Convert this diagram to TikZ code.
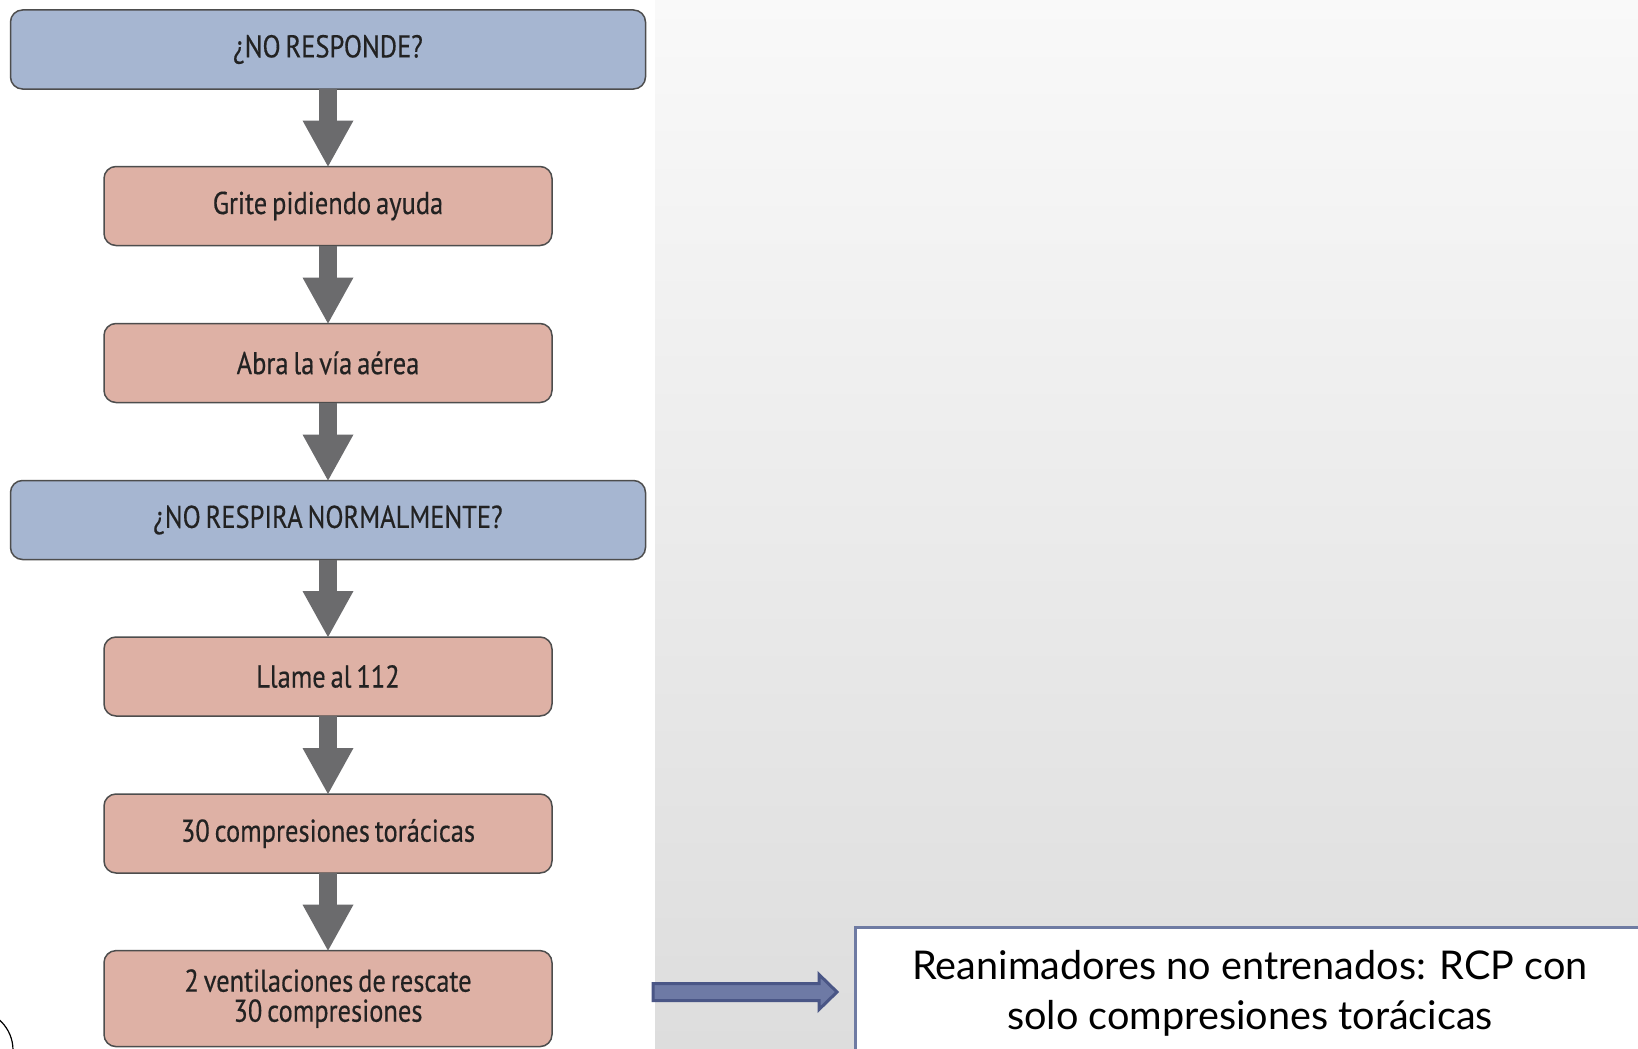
\documentclass[tikz,border=0pt]{standalone}
\usepackage{fontspec}
\setmainfont{PT Sans}
\newfontfamily\flowfont[FakeStretch=0.84,WordSpace=0.7,FakeBold=0.4]{PT Sans}
\newfontfamily\notefont{Lato}
\usetikzlibrary{arrows.meta,calc}

\definecolor{askblue}{HTML}{A6B6D1}
\definecolor{actpink}{HTML}{DEB1A5}
\definecolor{boxline}{HTML}{4D4D4D}
\definecolor{flowgray}{HTML}{6B6B6D}
\definecolor{inktext}{HTML}{222222}
\definecolor{panelTop}{HTML}{F9F9F9}
\definecolor{panelBot}{HTML}{DDDDDD}
\definecolor{notearrow}{HTML}{6E7AA5}
\definecolor{notearrowline}{HTML}{4A5686}
\definecolor{noteline}{HTML}{6F7BA3}

\begin{document}
\begin{tikzpicture}[x=1pt,y=-1pt,
  flowbox/.style={draw=boxline, line width=1.5pt, rounded corners=12pt,
    minimum height=79pt, outer sep=0pt, inner sep=0pt, align=center,
    text=inktext, font=\flowfont\fontsize{31.5}{30}\selectfont},
  askbox/.style={flowbox, fill=askblue, minimum width=635pt},
  actbox/.style={flowbox, fill=actpink, minimum width=448pt},
  flowarrow/.style={draw=flowgray, line width=18pt,
    -{Triangle[width=51pt,length=46pt,line width=0pt]}},
  notebox/.style={draw=noteline, line width=3pt, fill=white, outer sep=0pt,
    inner sep=0pt, align=center, text=black,
    font=\notefont\fontsize{39.6}{50}\selectfont},
]
\useasboundingbox (0,0) rectangle (1638,1049);
\clip (0,0) rectangle (1638,1049);

% page background: white left half, shaded right panel
\fill[white] (0,0) rectangle (1638,1049);
\shade[top color=panelTop, bottom color=panelBot] (655,0) rectangle (1638,1049);

% flowchart steps
\node[askbox] (resp)  at (328,49.5) {¿NO RESPONDE?};
\node[actbox] (shout) at (328,206)  {Grite pidiendo ayuda};
\node[actbox] (air)   at (328,363)  {Abra la vía aérea};
\node[askbox] (breath) at (328,520) {¿NO RESPIRA NORMALMENTE?};
\node[actbox] (call)  at (328,676.5) {Llame al 112};
\node[actbox] (comp)  at (328,833.5) {30 compresiones torácicas};
\node[actbox, minimum height=96pt] (vent) at (328,998.6)
  {2 ventilaciones de rescate\\30 compresiones};

% downward connectors
\draw[flowarrow] (resp.south)   -- (shout.north);
\draw[flowarrow] (shout.south)  -- (air.north);
\draw[flowarrow] (air.south)    -- (breath.north);
\draw[flowarrow] (breath.south) -- (call.north);
\draw[flowarrow] (call.south)   -- (comp.north);
\draw[flowarrow] (comp.south)   -- (vent.north);

% note for untrained rescuers
\node[notebox, minimum width=790pt, minimum height=132pt] (note) at (1250,993)
  {Reanimadores no entrenados: RCP con\\solo compresiones torácicas};

% block arrow pointing at the note
\coordinate (ntail) at (653,992);
\coordinate (ntip) at ($(note.west)+(-18,-1)$);
\draw[draw=notearrowline, fill=notearrow, line width=3pt, line join=miter]
  ($(ntail)+(0,-8.5)$) -- ($(ntip)+(-18,-8.5)$) -- ($(ntip)+(-18,-17.5)$)
  -- (ntip) -- ($(ntip)+(-18,17.5)$) -- ($(ntip)+(-18,8.5)$)
  -- ($(ntail)+(0,8.5)$) -- cycle;

% edge of the seal in the lower left corner
\draw[black, line width=1.2pt] (-27,1050) circle (40);
\end{tikzpicture}
\end{document}
